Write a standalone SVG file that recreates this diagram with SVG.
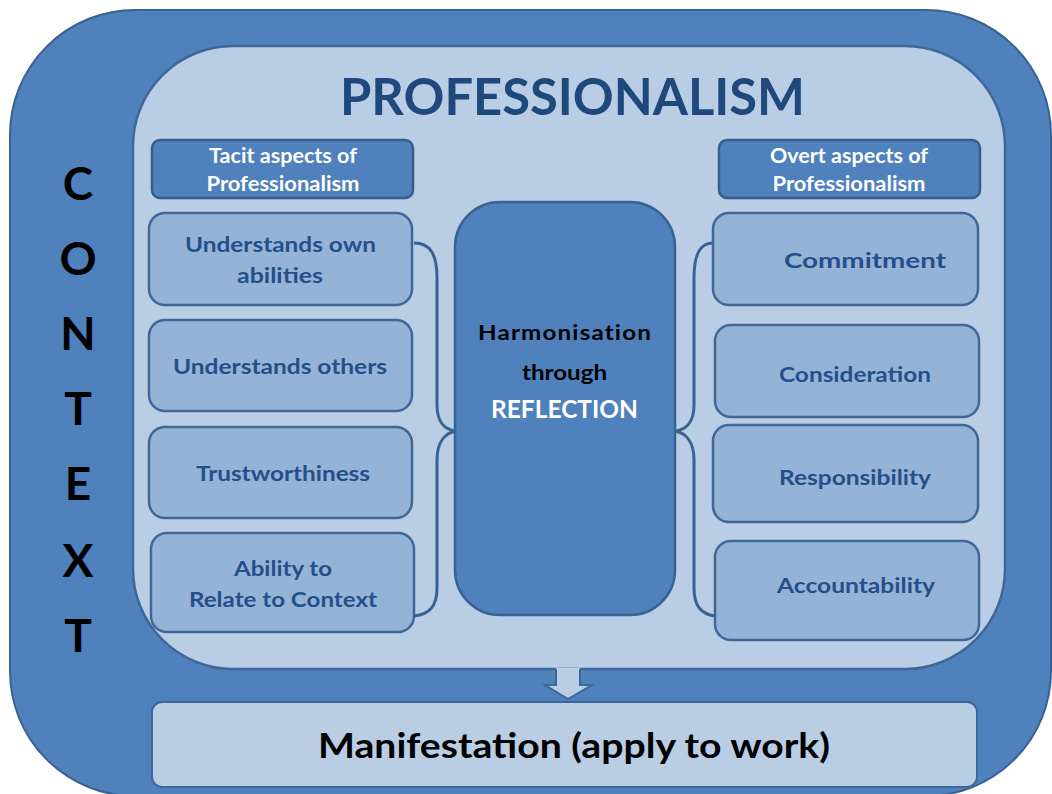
<svg xmlns="http://www.w3.org/2000/svg" width="1052" height="794" viewBox="0 0 1052 794">
<style>
.outer{fill:#4f81bd;stroke:#3a6291;stroke-width:2}
.inner{fill:#b9cde5;stroke:#3f6898;stroke-width:2.5}
.hdr{fill:#4f81bd;stroke:#385d8a;stroke-width:2.5}
.box{fill:#95b3d7;stroke:#3f6898;stroke-width:2.5}
.ctr{fill:#4f81bd;stroke:#3a6291;stroke-width:2.5}
.man{fill:#b9cde5;stroke:#3f6898;stroke-width:2}
.brace{fill:none;stroke:#3a6291;stroke-width:3}
text{font-family:Lato,"Open Sans","Liberation Sans",sans-serif;font-weight:bold;text-anchor:middle}
.title{fill:#1f497d;font-size:52px}
.ht{fill:#ffffff;font-size:20px}
.bt{fill:#24508a;font-size:21px}
.ctx{fill:#000000;font-size:46px}
.blk{fill:#000000}
</style>
<g id="context">
<rect class="outer" x="10" y="10" width="1041" height="786" rx="125" ry="125"/>
<text class="ctx" x="78" y="200">C</text>
<text class="ctx" x="78" y="275">O</text>
<text class="ctx" x="78" y="350">N</text>
<text class="ctx" x="78" y="425">T</text>
<text class="ctx" x="78" y="500">E</text>
<text class="ctx" x="78" y="577">X</text>
<text class="ctx" x="78" y="652">T</text>
</g>
<g id="professionalism">
<rect class="inner" x="133" y="46" width="872" height="623" rx="100" ry="100"/>
<text class="title" x="572.5" y="115" textLength="465" lengthAdjust="spacingAndGlyphs">PROFESSIONALISM</text>
</g>
<g id="tacit-header">
<rect class="hdr" x="152" y="140" width="261" height="58" rx="8"/>
<text class="ht" x="283" y="163" textLength="148" lengthAdjust="spacingAndGlyphs">Tacit aspects of</text>
<text class="ht" x="283" y="191" textLength="153" lengthAdjust="spacingAndGlyphs">Professionalism</text>
</g>
<g id="overt-header">
<rect class="hdr" x="719" y="140" width="261" height="58" rx="8"/>
<text class="ht" x="849" y="163" textLength="158" lengthAdjust="spacingAndGlyphs">Overt aspects of</text>
<text class="ht" x="849" y="191" textLength="153" lengthAdjust="spacingAndGlyphs">Professionalism</text>
</g>
<g id="understands-own">
<rect class="box" x="149" y="213" width="263" height="92" rx="16"/>
<text class="bt" x="280.5" y="252" textLength="191" lengthAdjust="spacingAndGlyphs">Understands own</text>
<text class="bt" x="280" y="283" textLength="86" lengthAdjust="spacingAndGlyphs">abilities</text>
</g>
<g id="understands-others">
<rect class="box" x="149" y="320" width="263" height="91" rx="16"/>
<text class="bt" x="280" y="374" textLength="214" lengthAdjust="spacingAndGlyphs">Understands others</text>
</g>
<g id="trustworthiness">
<rect class="box" x="149" y="427" width="263" height="91" rx="16"/>
<text class="bt" x="283" y="481" textLength="174" lengthAdjust="spacingAndGlyphs">Trustworthiness</text>
</g>
<g id="ability">
<rect class="box" x="151" y="533" width="263" height="99" rx="16"/>
<text class="bt" x="283" y="576" textLength="98" lengthAdjust="spacingAndGlyphs">Ability to</text>
<text class="bt" x="283" y="607" textLength="188" lengthAdjust="spacingAndGlyphs">Relate to Context</text>
</g>
<g id="harmonisation">
<rect class="ctr" x="455" y="202" width="220" height="413" rx="45"/>
<text class="blk" x="565" y="340" font-size="21" letter-spacing="1" textLength="174" lengthAdjust="spacingAndGlyphs">Harmonisation</text>
<text class="blk" x="564.5" y="380" font-size="21" textLength="85" lengthAdjust="spacingAndGlyphs">through</text>
<text x="564.5" y="418" font-size="24" fill="#ffffff" textLength="147" lengthAdjust="spacingAndGlyphs">REFLECTION</text>
</g>
<g id="commitment">
<rect class="box" x="713" y="213" width="265" height="92" rx="16"/>
<text class="bt" x="865" y="268" font-size="24" textLength="162" lengthAdjust="spacingAndGlyphs">Commitment</text>
</g>
<g id="consideration">
<rect class="box" x="715" y="325" width="264" height="92" rx="16"/>
<text class="bt" x="855" y="382" textLength="152" lengthAdjust="spacingAndGlyphs">Consideration</text>
</g>
<g id="responsibility">
<rect class="box" x="713" y="425" width="265" height="97" rx="16"/>
<text class="bt" x="855" y="485" textLength="152" lengthAdjust="spacingAndGlyphs">Responsibility</text>
</g>
<g id="accountability">
<rect class="box" x="715" y="541" width="264" height="99" rx="16"/>
<text class="bt" x="856" y="593" textLength="158" lengthAdjust="spacingAndGlyphs">Accountability</text>
</g>
<g id="manifestation">
<rect class="man" x="152" y="702" width="825" height="85" rx="10"/>
<text class="blk" x="574" y="758" font-size="34" textLength="512" lengthAdjust="spacingAndGlyphs">Manifestation (apply to work)</text>
</g>
<g id="connectors">
<path class="brace" d="M 414 243 C 430 243 437 254 437 278 L 437 405 C 437 422 445 430 456 431 C 445 433 437 442 437 460 L 437 588 C 437 606 430 614 414 616"/>
<path class="brace" d="M 713 243 C 700 243 694 254 694 278 L 694 405 C 694 422 686 430 675 431 C 686 433 694 442 694 460 L 694 588 C 694 606 701 614 715 616"/>
<path d="M 556 668 L 556 685 L 545 685 L 568 699 L 592 685 L 580 685 L 580 668 Z" fill="#b9cde5" stroke="none"/>
<path d="M 556 669 L 556 685 L 545 685 L 568 699 L 592 685 L 580 685 L 580 669" fill="none" stroke="#3f6898" stroke-width="2" stroke-linejoin="miter"/>
</g>
</svg>
